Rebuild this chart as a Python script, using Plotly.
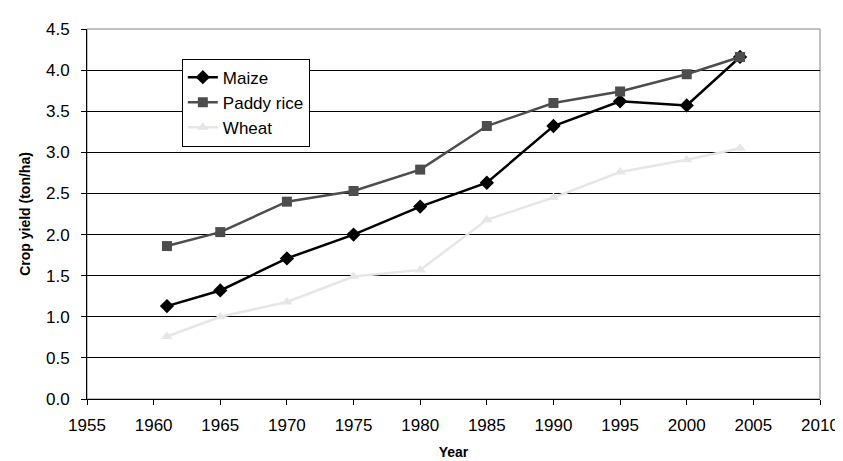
import plotly.graph_objects as go

years = [1961, 1965, 1970, 1975, 1980, 1985, 1990, 1995, 2000, 2004]
maize = [1.13, 1.32, 1.71, 2.00, 2.34, 2.63, 3.32, 3.62, 3.57, 4.16]
paddy_rice = [1.86, 2.03, 2.40, 2.53, 2.79, 3.32, 3.60, 3.74, 3.95, 4.16]
wheat = [0.76, 1.00, 1.18, 1.49, 1.57, 2.18, 2.45, 2.76, 2.91, 3.05]

FONT = "Liberation Sans, Arial, sans-serif"

fig = go.Figure()
fig.add_trace(go.Scatter(x=years, y=maize, name="Maize", mode="lines+markers",
                         legendgroup="a",
                         line=dict(color="#000000", width=2.5),
                         marker=dict(symbol="diamond", size=11, color="#000000")))
fig.add_trace(go.Scatter(x=years, y=paddy_rice, name="Paddy rice", mode="lines+markers",
                         legendgroup="b",
                         line=dict(color="#4d4d4d", width=2.5),
                         marker=dict(symbol="square", size=10, color="#4d4d4d")))
fig.add_trace(go.Scatter(x=years, y=wheat, name="Wheat", mode="lines+markers",
                         legendgroup="c",
                         line=dict(color="#e6e6e6", width=2.5),
                         marker=dict(symbol="triangle-up", size=10, color="#e6e6e6")))

fig.update_layout(
    width=843, height=461,
    margin=dict(l=79, r=22, t=17, b=69),
    paper_bgcolor="white", plot_bgcolor="white",
    font=dict(family=FONT, size=17, color="#000000"),
    legend=dict(x=(175 - 79) / 742, y=(392 - 47) / 375, xanchor="left", yanchor="top",
                bordercolor="#000000", borderwidth=1, bgcolor="white",
                font=dict(family=FONT, size=17), tracegroupgap=13,
                traceorder="normal"),
    xaxis=dict(range=[1955, 2010], dtick=5, tick0=1955, showgrid=False,
               showline=True, linecolor="#000000", linewidth=1,
               ticks="outside", ticklen=5, tickcolor="#000000",
               ticklabelstandoff=6,
               zeroline=False,
               title=dict(text="<b>Year</b>", font=dict(family=FONT, size=14), standoff=12)),
    yaxis=dict(range=[0, 4.5], dtick=0.5, tickformat=".1f", showgrid=True,
               gridcolor="#000000", gridwidth=1,
               showline=True, linecolor="#000000", linewidth=1,
               ticks="outside", ticklen=5, tickcolor="#000000",
               ticklabelstandoff=8,
               zeroline=False,
               title=dict(text="<b>Crop yield (ton/ha)</b>", font=dict(family=FONT, size=14), standoff=12)),
)
fig.add_shape(type="rect", xref="paper", yref="paper", x0=0, y0=0, x1=1, y1=1,
              line=dict(color="#808080", width=1), layer="below")

fig.write_html("out.html")
